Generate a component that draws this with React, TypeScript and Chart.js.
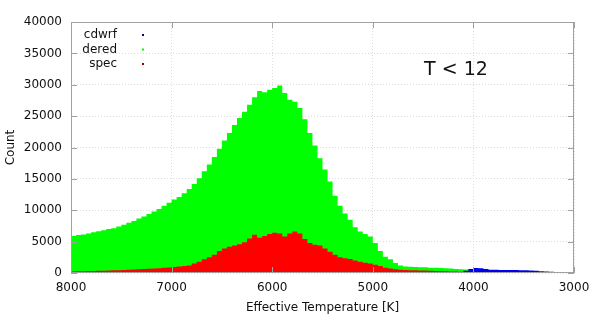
import { useEffect, useRef } from 'react';
import { Chart, registerables } from 'chart.js';

Chart.register(...registerables);

// Histogram bins: upper edge of first bin and bin width (Effective Temperature, K)
const binStart = 8000;
const binWidth = 50;

const xTicks = [8000, 7000, 6000, 5000, 4000, 3000];
const yTicks = [0, 5000, 10000, 15000, 20000, 25000, 30000, 35000, 40000];

const legendLabels = ['cdwrf', 'dered', 'spec'];
const annotationText = 'T < 12';

// dered counts, bins from 8000 K down to 3000 K
const dered = [
  5900, 6050, 6150, 6300, 6500, 6650, 6800, 7000, 7150, 7400,
  7700, 8000, 8300, 8700, 9000, 9400, 9800, 10200, 10700, 11200,
  11700, 12100, 12700, 13400, 14200, 15100, 16200, 17300, 18500, 19800,
  21100, 22300, 23600, 24700, 25700, 26800, 28000, 29000, 28800, 29200,
  29500, 29900, 28700, 27600, 27300, 26300, 24500, 22300, 20300, 18300,
  16500, 14600, 12300, 10700, 9500, 8500, 7300, 6600, 6200, 5800,
  4800, 3500, 2600, 2200, 1600, 1200, 1050, 1000, 950, 900,
  900, 850, 850, 800, 750, 700, 650, 600, 550, 500,
  450, 400, 380, 350, 330, 300, 280, 260, 240, 220,
  200, 180, 160, 140, 120, 100, 80, 60, 40, 20,
];

// spec counts, bins from 8000 K down to 3000 K
const spec = [
  250, 260, 280, 300, 320, 340, 360, 390, 420, 450,
  480, 510, 550, 600, 630, 670, 720, 760, 820, 880,
  950, 1050, 1100, 1200, 1500, 1800, 2200, 2500, 2900, 3500,
  3900, 4200, 4400, 4600, 4900, 5500, 6100, 5600, 5900, 6200,
  6400, 6300, 5800, 6300, 6600, 6300, 5400, 4800, 4500, 4400,
  3900, 3400, 2900, 2500, 2350, 2250, 2000, 1800, 1650, 1500,
  1300, 1100, 850, 700, 600, 520, 480, 450, 420, 400,
  380, 350, 330, 300, 280, 250, 220, 180, 150, 120,
  100, 90, 80, 70, 60, 50, 45, 40, 35, 30,
  25, 20, 18, 15, 12, 10, 8, 5, 3, 0,
];

// cdwrf counts, bins from 4150 K down to 3000 K
const cdwrfStart = 4150;
const cdwrf = [
  100, 350, 650, 780, 760, 620, 520, 500, 490, 480,
  470, 460, 440, 420, 390, 340, 290, 240, 190, 140,
  90, 50, 20,
];

const FONT = 'DejaVu Sans';

function histPoints(values: number[], start: number) {
  const pts: { x: number; y: number }[] = [];
  values.forEach((v, i) => {
    const hi = start - i * binWidth;
    pts.push({ x: hi, y: v });
    pts.push({ x: hi - binWidth, y: v });
  });
  return pts;
}

const overlayPlugin = {
  id: 'overlay',
  afterDatasetsDraw(chart: any) {
    const { ctx, chartArea: a, scales } = chart;
    ctx.save();
    // inward tick marks
    ctx.strokeStyle = '#a0a0a0';
    ctx.lineWidth = 1;
    ctx.beginPath();
    yTicks.forEach((v) => {
      const py = Math.round(scales.y.getPixelForValue(v)) + 0.5;
      ctx.moveTo(a.left, py);
      ctx.lineTo(a.left + 6, py);
      ctx.moveTo(a.right, py);
      ctx.lineTo(a.right - 6, py);
    });
    xTicks.forEach((v) => {
      const px = Math.round(scales.x.getPixelForValue(v)) + 0.5;
      ctx.moveTo(px, a.bottom);
      ctx.lineTo(px, a.bottom - 6);
      ctx.moveTo(px, a.top);
      ctx.lineTo(px, a.top + 6);
    });
    ctx.stroke();
    // frame
    ctx.strokeStyle = '#a0a0a0';
    ctx.strokeRect(a.left + 0.5, a.top + 0.5, a.right - a.left - 1, a.bottom - a.top - 1);

    // legend (gnuplot style)
    const colors = ['#00008b', '#00ff00', '#8b0000'];
    ctx.font = `12px "${FONT}"`;
    ctx.textAlign = 'right';
    ctx.textBaseline = 'middle';
    legendLabels.forEach((t, i) => {
      const y = a.top + 13 + i * 14.5;
      ctx.fillStyle = '#111';
      ctx.fillText(t, a.left + 46, y);
      ctx.fillStyle = colors[i];
      ctx.fillRect(a.left + 71, y - 1, 2, 2);
    });

    // annotation
    ctx.font = `19px "${FONT}"`;
    ctx.fillStyle = '#111';
    ctx.textAlign = 'center';
    ctx.fillText(annotationText, a.left + 385, a.top + 48);
    ctx.restore();
  },
};

export default function App() {
  const ref = useRef<HTMLCanvasElement | null>(null);
  useEffect(() => {
    if (!ref.current) return;
    const common = { pointRadius: 0, borderWidth: 0, tension: 0, fill: 'origin' };
    const chart = new Chart(ref.current, {
      type: 'line',
      data: {
        datasets: [
          { ...common, label: 'cdwrf', data: histPoints(cdwrf, cdwrfStart), backgroundColor: '#0000f0', borderColor: '#0000f0', order: 1 },
          { ...common, label: 'dered', data: histPoints(dered, binStart), backgroundColor: '#00ff00', borderColor: '#00ff00', order: 3 },
          { ...common, label: 'spec', data: histPoints(spec, binStart), backgroundColor: '#ff0000', borderColor: '#ff0000', order: 2 },
        ] as any,
      },
      options: {
        animation: false,
        responsive: true,
        maintainAspectRatio: false,
        layout: { padding: { top: 22, right: 24, left: 0, bottom: 0 } },
        plugins: { legend: { display: false }, tooltip: { enabled: false } },
        scales: {
          x: {
            type: 'linear',
            reverse: true,
            min: 3000,
            max: 8000,
            afterBuildTicks: (s: any) => { s.ticks = xTicks.map((v) => ({ value: v })); },
            afterFit: (s: any) => { s.height = 42; },
            grid: { color: '#dcdcdc', drawTicks: false },
            border: { display: false, dash: [1, 2] },
            ticks: { padding: 8, color: '#111', font: { family: FONT, size: 12 }, callback: (v: any) => String(v), maxRotation: 0 },
            title: { display: true, text: 'Effective Temperature [K]', color: '#111', font: { family: FONT, size: 12 }, padding: { top: 0, bottom: 0 } },
          },
          y: {
            type: 'linear',
            min: 0,
            max: 40000,
            afterBuildTicks: (s: any) => { s.ticks = yTicks.map((v) => ({ value: v })); },
            afterFit: (s: any) => { s.width = 71; },
            grid: { color: '#dcdcdc', drawTicks: false },
            border: { display: false, dash: [1, 2] },
            ticks: { padding: 9, color: '#111', font: { family: FONT, size: 12 }, callback: (v: any) => String(v) },
            title: { display: true, text: 'Count', color: '#111', font: { family: FONT, size: 12 }, padding: { top: 4, bottom: 0 } },
          },
        },
      },
      plugins: [overlayPlugin],
    } as any);
    return () => chart.destroy();
  }, []);
  return (
    <div style={{ position: 'absolute', left: 0, top: 0, width: 598, height: 315 }}>
      <canvas ref={ref} />
    </div>
  );
}
